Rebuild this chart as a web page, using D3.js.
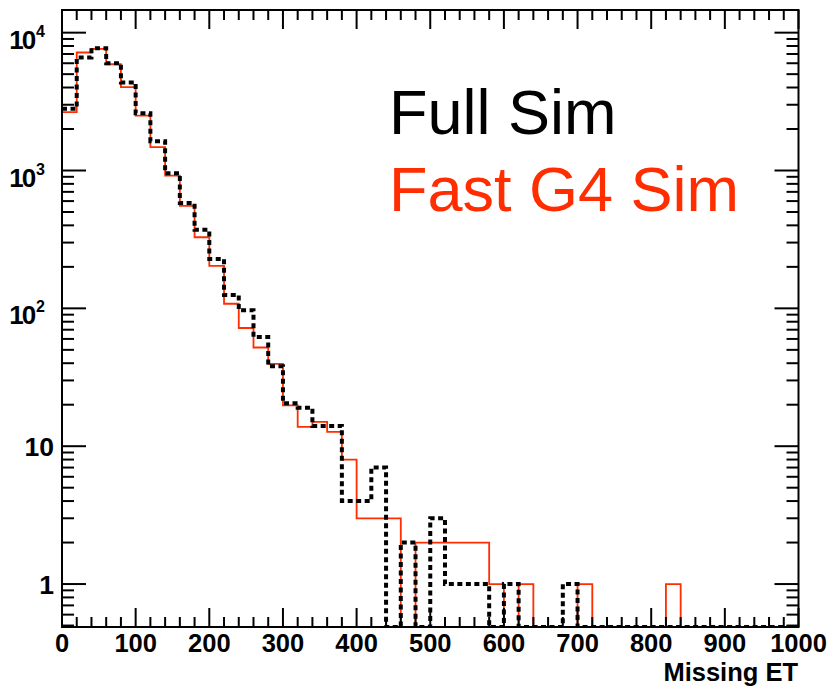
<!DOCTYPE html>
<html>
<head>
<meta charset="utf-8">
<script src="https://cdn.jsdelivr.net/npm/d3@7"></script>
<style>
  body { margin: 0; background: #fff; }
  svg { display: block; }
</style>
</head>
<body>
<div id="chart"></div>
<script>
// histogram bins: 20 GeV wide, 0..1000
const binWidth = 20;

// Full Sim (black dashed)
const fullSim = [
  2800, 6600, 7700, 6000, 4350, 2600, 1630, 955, 580, 371,
  228, 125, 97, 62, 38, 20.5, 19, 14, 14, 4,
  4, 7, 0, 2, 0, 3, 1, 1, 1, 0,
  1, 0, 0, 0, 1, 0, 0, 0, 0, 0,
  0, 0, 0, 0, 0, 0, 0, 0, 0, 0
];

// Fast G4 Sim (red)
const fastSim = [
  2650, 7180, 7620, 5900, 4020, 2500, 1480, 918, 553, 328,
  203, 108, 72, 52, 39.5, 19.8, 13.8, 15, 12.7, 8,
  3, 3, 3, 0, 2, 2, 2, 2, 2, 1,
  0, 1, 0, 0, 0, 1, 0, 0, 0, 0,
  0, 1, 0, 0, 0, 0, 0, 0, 0, 0
];

const xTicks = [0, 100, 200, 300, 400, 500, 600, 700, 800, 900, 1000];
const yLabels = [
  {v: 1, base: '1', exp: ''},
  {v: 10, base: '10', exp: ''},
  {v: 100, base: '10', exp: '2'},
  {v: 1000, base: '10', exp: '3'},
  {v: 10000, base: '10', exp: '4'}
];

const width = 833;
const height = 687;
const pLeft = 62, pRight = 798.5, pTop = 10, pBottom = 627;
const font = '"Liberation Sans", Arial, Helvetica, sans-serif';
const red = '#ff2d00';

const x = d3.scaleLinear().domain([0, 1000]).range([pLeft, pRight]);
const y = d3.scaleLog().domain([0.488, 14600]).range([pBottom, pTop]);
const yMin = y.domain()[0];

const svg = d3.select('#chart')
  .append('svg')
  .attr('width', width)
  .attr('height', height);

svg.append('defs').append('clipPath')
  .attr('id', 'plot-clip')
  .append('rect')
  .attr('x', pLeft).attr('y', pTop)
  .attr('width', pRight - pLeft).attr('height', pBottom - pTop);

// step points for a histogram
const steps = (counts) => {
  const pts = [];
  counts.forEach((c, i) => {
    const v = c > 0 ? c : yMin;
    pts.push([i * binWidth, v]);
    pts.push([(i + 1) * binWidth, v]);
  });
  return pts;
};

const line = d3.line()
  .x(d => x(d[0]))
  .y(d => y(d[1]));

const plot = svg.append('g').attr('clip-path', 'url(#plot-clip)');

plot.append('path')
  .datum(steps(fastSim))
  .attr('d', line)
  .attr('fill', 'none')
  .attr('stroke', red)
  .attr('stroke-width', 1.8);

plot.append('path')
  .datum(steps(fullSim))
  .attr('d', line)
  .attr('fill', 'none')
  .attr('stroke', '#000')
  .attr('stroke-width', 4)
  .attr('stroke-dasharray', '5,3.5');

// ticks
const tickG = svg.append('g').attr('stroke', '#000').attr('stroke-width', 2);

const xMinor = d3.range(0, 1001, 20);
xMinor.forEach(v => {
  const major = v % 100 === 0;
  const len = major ? 19 : 10;
  tickG.append('line')
    .attr('x1', x(v)).attr('x2', x(v))
    .attr('y1', pBottom).attr('y2', pBottom - len);
  tickG.append('line')
    .attr('x1', x(v)).attr('x2', x(v))
    .attr('y1', pTop).attr('y2', pTop + len);
});

const yTickVals = [];
[0.1, 1, 10, 100, 1000, 10000].forEach(dec => {
  for (let k = 1; k <= 9; k++) {
    const v = dec * k;
    if (v >= yMin && v <= y.domain()[1]) yTickVals.push({v: v, major: k === 1});
  }
});
yTickVals.forEach(t => {
  const len = t.major ? 24 : 12;
  tickG.append('line')
    .attr('x1', pLeft).attr('x2', pLeft + len)
    .attr('y1', y(t.v)).attr('y2', y(t.v));
  tickG.append('line')
    .attr('x1', pRight).attr('x2', pRight - len)
    .attr('y1', y(t.v)).attr('y2', y(t.v));
});

// frame
svg.append('rect')
  .attr('x', pLeft).attr('y', pTop)
  .attr('width', pRight - pLeft).attr('height', pBottom - pTop)
  .attr('fill', 'none')
  .attr('stroke', '#000')
  .attr('stroke-width', 2);

// x labels
svg.append('g').selectAll('text')
  .data(xTicks)
  .enter()
  .append('text')
  .attr('x', d => x(d))
  .attr('y', 652)
  .attr('text-anchor', 'middle')
  .attr('font-family', font)
  .attr('font-weight', 'bold')
  .attr('font-size', '25.5px')
  .text(d => d);

// y labels
yLabels.forEach(l => {
  if (l.exp === '') {
    svg.append('text')
      .attr('x', 54)
      .attr('y', y(l.v) + 9.5)
      .attr('text-anchor', 'end')
      .attr('font-family', font)
      .attr('font-weight', 'bold')
      .attr('font-size', '26.5px')
      .text(l.base);
  } else {
    const t = svg.append('text')
      .attr('x', 45)
      .attr('y', y(l.v) + 16)
      .attr('text-anchor', 'end')
      .attr('font-family', font)
      .attr('font-weight', 'bold')
      .attr('font-size', '26px')
      .attr('letter-spacing', '-2px');
    t.append('tspan').text(l.base);
    t.append('tspan')
      .attr('dy', -12)
      .attr('font-size', '16px')
      .attr('letter-spacing', '0px')
      .attr('dx', 2)
      .text(l.exp);
  }
});

// axis title
svg.append('text')
  .attr('x', 798)
  .attr('y', 681)
  .attr('text-anchor', 'end')
  .attr('font-family', font)
  .attr('font-weight', 'bold')
  .attr('font-size', '25.5px')
  .text('Missing ET');

// legend text
svg.append('text')
  .attr('x', 389)
  .attr('y', 134)
  .attr('font-family', font)
  .attr('font-size', '63px')
  .attr('fill', '#000')
  .text('Full Sim');

svg.append('text')
  .attr('x', 389)
  .attr('y', 211)
  .attr('font-family', font)
  .attr('font-size', '63px')
  .attr('fill', red)
  .text('Fast G4 Sim');
</script>
</body>
</html>
